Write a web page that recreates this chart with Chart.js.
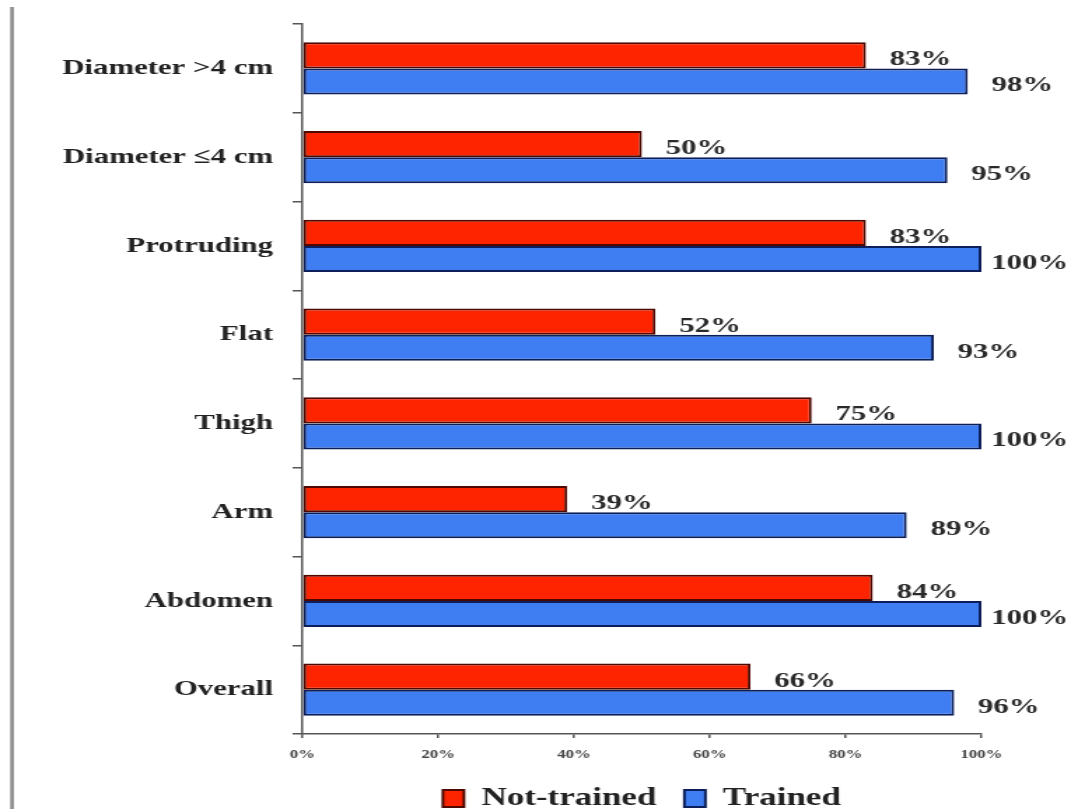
<!DOCTYPE html>
<html>
<head>
<meta charset="utf-8">
<script src="https://cdn.jsdelivr.net/npm/chart.js@4/dist/chart.umd.min.js"></script>
<style>
  html, body { margin: 0; padding: 0; background: #fff; overflow: hidden; }
  #page { width: 1071px; height: 809px; overflow: hidden; }
  /* the chart is laid out narrow and widened horizontally to the page width */
  #wrap { width: 765px; height: 809px; transform: scaleX(1.4); transform-origin: 0 0; }
  #chart { display: block; }
</style>
</head>
<body>
<div id="page">
  <div id="wrap">
    <canvas id="chart" width="765" height="809"></canvas>
  </div>
</div>
<script>
// Categories, top to bottom
const categories = [
  'Diameter >4 cm',
  'Diameter \u22644 cm',
  'Protruding',
  'Flat',
  'Thigh',
  'Arm',
  'Abdomen',
  'Overall'
];

// Percentages per group
const notTrained = [83, 50, 83, 52, 75, 39, 84, 66];
const trained    = [98, 95, 100, 93, 100, 89, 100, 96];

const seriesNames = ['Not-trained', 'Trained'];

// Axis ticks
const xTicks = [0, 20, 40, 60, 80, 100];

const SERIF = '"Liberation Serif", "Times New Roman", serif';

// Percent labels to the right of each bar
const valueLabels = {
  id: 'valueLabels',
  afterDatasetsDraw(chart) {
    const ctx = chart.ctx;
    ctx.save();
    ctx.font = 'bold 22px ' + SERIF;
    ctx.fillStyle = '#2a2a2a';
    ctx.textBaseline = 'alphabetic';
    ctx.textAlign = 'left';
    chart.data.datasets.forEach((ds, di) => {
      const meta = chart.getDatasetMeta(di);
      meta.data.forEach((bar, i) => {
        const txt = ds.data[i] + '%';
        const w = ctx.measureText(txt).width;
        let x = bar.x + 17;
        const maxX = chart.width - w - 2;
        if (x > maxX) x = maxX;
        ctx.fillText(txt, x, bar.y + 10);
      });
    });
    ctx.restore();
  }
};

// Thin grey rule along the left edge
const edgeRule = {
  id: 'edgeRule',
  beforeDraw(chart) {
    const ctx = chart.ctx;
    ctx.save();
    ctx.strokeStyle = '#8c8c8c';
    ctx.lineWidth = 2.6;
    ctx.beginPath();
    ctx.moveTo(8.6, 7);
    ctx.lineTo(8.6, chart.height);
    ctx.stroke();
    ctx.restore();
  }
};

new Chart(document.getElementById('chart'), {
  type: 'bar',
  data: {
    labels: categories,
    datasets: [
      {
        label: seriesNames[0],
        data: notTrained,
        backgroundColor: '#ff2400',
        borderColor: '#4e0800',
        borderWidth: 2,
        borderSkipped: false
      },
      {
        label: seriesNames[1],
        data: trained,
        backgroundColor: '#3f7ef2',
        borderColor: '#0d1f5a',
        borderWidth: 2,
        borderSkipped: false
      }
    ]
  },
  options: {
    indexAxis: 'y',
    responsive: false,
    animation: false,
    devicePixelRatio: 1,
    datasets: {
      bar: { categoryPercentage: 0.59, barPercentage: 1.0 }
    },
    layout: {
      padding: { left: 0, right: 64, top: 24, bottom: -12 }
    },
    scales: {
      y: {
        type: 'category',
        offset: true,
        afterFit(scale) {
          scale.width = 216;
          scale.paddingTop = 0;
          scale.paddingBottom = 0;
        },
        grid: {
          offset: true,
          drawOnChartArea: false,
          drawTicks: true,
          tickLength: 7,
          color: '#555',
          lineWidth: 1.5
        },
        border: { display: true, color: '#555', width: 1.5 },
        ticks: {
          padding: 14,
          color: '#222',
          font: { family: SERIF, size: 22, weight: 'bold' }
        }
      },
      x: {
        type: 'linear',
        min: 0,
        max: 100,
        afterBuildTicks(scale) { scale.ticks = xTicks.map(v => ({ value: v })); },
        afterFit(scale) { scale.height = 32; },
        grid: {
          drawOnChartArea: false,
          drawTicks: true,
          tickLength: 4,
          color: '#555',
          lineWidth: 1.5
        },
        border: { display: true, color: '#555', width: 1.5 },
        ticks: {
          padding: 10,
          color: '#444',
          font: { family: SERIF, size: 12, weight: 'bold' },
          callback: v => v + '%'
        }
      }
    },
    plugins: {
      legend: {
        position: 'bottom',
        fullSize: false,
        labels: {
          boxWidth: 15,
          boxHeight: 17,
          padding: 20,
          color: '#222',
          font: { family: SERIF, size: 25, weight: 'bold' }
        }
      },
      tooltip: { enabled: false }
    }
  },
  plugins: [valueLabels, edgeRule]
});
</script>
</body>
</html>
